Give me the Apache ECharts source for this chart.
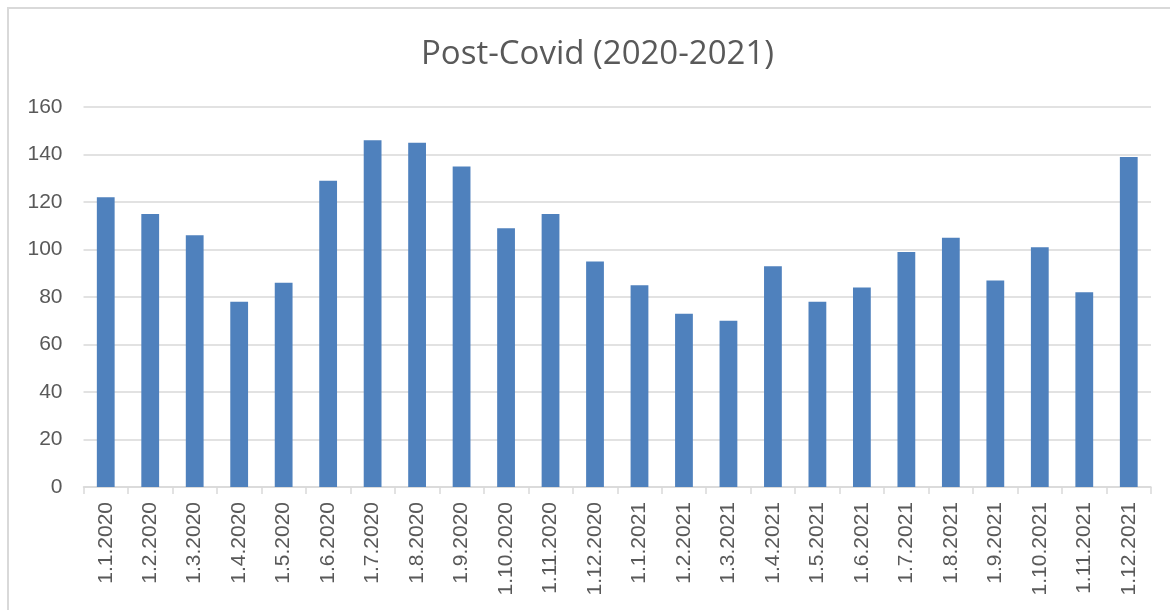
<!DOCTYPE html>
<html>
<head>
<meta charset="utf-8">
<script src="https://cdn.jsdelivr.net/npm/echarts@6/dist/echarts.min.js"></script>
<style>
html,body{margin:0;padding:0;background:#fff;overflow:hidden;}
#frame{position:absolute;left:7px;top:7px;width:1200px;height:700px;border:2px solid #d9d9d9;box-sizing:border-box;}
#chart{position:absolute;left:0;top:0;width:1170px;height:610px;}
</style>
</head>
<body>
<div id="frame"></div>
<div id="chart"></div>
<script>
const categories = ["1.1.2020","1.2.2020","1.3.2020","1.4.2020","1.5.2020","1.6.2020","1.7.2020","1.8.2020","1.9.2020","1.10.2020","1.11.2020","1.12.2020",
  "1.1.2021","1.2.2021","1.3.2021","1.4.2021","1.5.2021","1.6.2021","1.7.2021","1.8.2021","1.9.2021","1.10.2021","1.11.2021","1.12.2021"];
const values = [122,115,106,78,86,129,146,145,135,109,115,95,
  85,73,70,93,78,84,99,105,87,101,82,139];
const yTicks = {min:0, max:160, interval:20};
const titleText = "Post-Covid (2020-2021)";

const chart = echarts.init(document.getElementById('chart'), null, {renderer:'canvas'});
chart.setOption({
  animation:false,
  backgroundColor:'transparent',
  title:{
    text:titleText,
    left:416,
    top:33,
    textStyle:{fontFamily:'Open Sans, Liberation Sans, sans-serif',fontSize:33,fontWeight:'normal',color:'#595959'}
  },
  grid:{left:83.5,right:19,top:107,bottom:123,containLabel:false},
  xAxis:{
    type:'category',
    data:categories,
    boundaryGap:true,
    axisLine:{show:true,lineStyle:{color:'#d9d9d9',width:1.5}},
    axisTick:{show:true,alignWithLabel:false,length:7,lineStyle:{color:'#d9d9d9',width:1.5}},
    axisLabel:{rotate:90,interval:0,margin:15,color:'#595959',fontSize:21,fontFamily:'Liberation Sans, Arial, sans-serif'}
  },
  yAxis:{
    type:'value',
    min:yTicks.min,max:yTicks.max,interval:yTicks.interval,
    axisLine:{show:false},
    axisTick:{show:false},
    splitLine:{lineStyle:{color:'#d9d9d9',width:1.5}},
    axisLabel:{margin:21,color:'#595959',fontSize:21,fontFamily:'Liberation Sans, Arial, sans-serif'}
  },
  series:[{
    type:'bar',
    data:values,
    barWidth:'40%',
    itemStyle:{color:'#4f81bd'}
  }]
});
</script>
</body>
</html>
